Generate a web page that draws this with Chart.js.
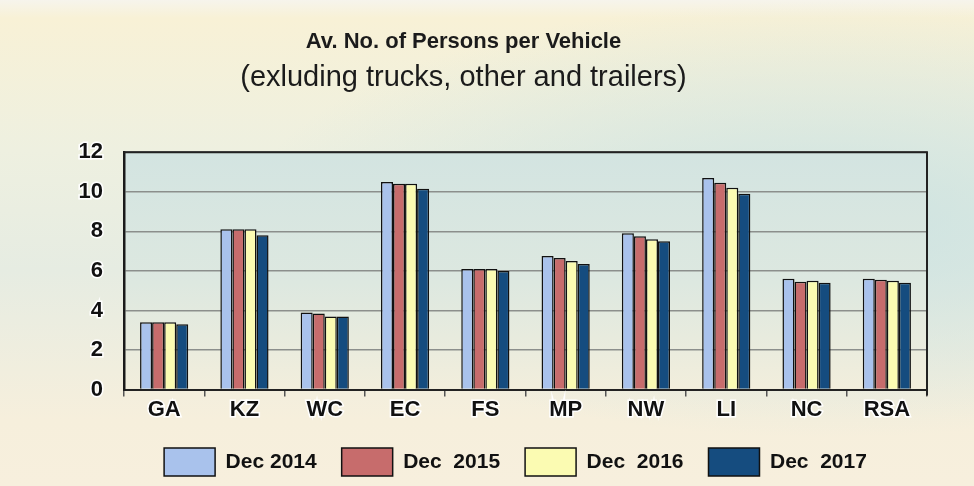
<!DOCTYPE html>
<html>
<head>
<meta charset="utf-8">
<title>Av. No. of Persons per Vehicle</title>
<script src="https://cdn.jsdelivr.net/npm/chart.js@4.4.1/dist/chart.umd.min.js"></script>
<style>
  html, body { margin: 0; padding: 0; }
  body {
    width: 974px; height: 486px; overflow: hidden;
    background:
      radial-gradient(ellipse 60% 45% at 85% 45%, rgba(200,225,225,0.85), rgba(200,225,225,0) 100%),
      linear-gradient(to bottom, #f6f4ec 0px, #f8f1d6 18px, #eef0e0 150px, #e6ece2 270px, #f6efdc 420px, #f7efdd 486px);
  }
  #wrap { position: relative; width: 974px; height: 486px; }
</style>
</head>
<body>
<div id="wrap"><canvas id="grafico"></canvas></div>
<script>
// dados do gráfico
const regioes = ['GA', 'KZ', 'WC', 'EC', 'FS', 'MP', 'NW', 'LI', 'NC', 'RSA'];
const dez2014 = [3.4, 8.1, 3.9, 10.5, 6.1, 6.75, 7.9, 10.7, 5.6, 5.6];
const dez2015 = [3.4, 8.1, 3.85, 10.4, 6.1, 6.65, 7.75, 10.45, 5.45, 5.55];
const dez2016 = [3.4, 8.1, 3.7, 10.4, 6.1, 6.5, 7.6, 10.2, 5.5, 5.5];
const dez2017 = [3.3, 7.8, 3.7, 10.15, 6.0, 6.35, 7.5, 9.9, 5.4, 5.4];
const rotulosSerie = ['Dec 2014', 'Dec  2015', 'Dec  2016', 'Dec  2017'];
const ticksY = [0, 2, 4, 6, 8, 10, 12];

const cores = ['#a9c2ec', '#c76c6c', '#fbfbb2', '#154c7f'];

// fundo da área do gráfico + bordas de cima e da direita
const fundoPlot = {
    id: 'fundoPlot',
    afterLayout(chart) {
        // legenda um pouco mais para a esquerda, como no original
        if (chart.legend) {
            chart.legend.left -= 10;
            chart.legend.right -= 10;
        }
    },
    beforeDraw(chart) {
        const { ctx, chartArea: a } = chart;
        const g = ctx.createLinearGradient(0, a.top, 0, a.bottom);
        g.addColorStop(0, '#d3e4e1');
        g.addColorStop(0.55, '#dde8e0');
        g.addColorStop(1, '#f2eedc');
        ctx.save();
        ctx.fillStyle = g;
        ctx.fillRect(a.left, a.top, a.right - a.left, a.bottom - a.top);
        ctx.restore();
    },
    afterDraw(chart) {
        const { ctx, chartArea: a } = chart;
        ctx.save();
        ctx.strokeStyle = '#222';
        ctx.lineWidth = 2;
        ctx.beginPath();
        ctx.moveTo(a.left, a.top);
        ctx.lineTo(a.right, a.top);
        ctx.lineTo(a.right, a.bottom + 6);
        ctx.stroke();
        ctx.restore();
    }
};

const series = [dez2014, dez2015, dez2016, dez2017];

const ctx = document.getElementById('grafico').getContext('2d');
const meuGrafico = new Chart(ctx, {
    type: 'bar',
    data: {
        labels: regioes,
        datasets: series.map((s, i) => ({
            label: rotulosSerie[i],
            data: s,
            backgroundColor: cores[i],
            borderColor: '#111',
            borderWidth: 1.5,
            categoryPercentage: 0.6,
            barPercentage: 1.0
        }))
    },
    options: {
        responsive: true,
        maintainAspectRatio: false,
        animation: false,
        layout: {
            padding: { left: 0, right: 47, top: 0, bottom: 0 }
        },
        plugins: {
            title: {
                display: true,
                text: 'Av. No. of Persons per Vehicle',
                color: '#1b1b1b',
                font: { family: 'Liberation Sans, Arial, sans-serif', size: 22, weight: 'bold' },
                padding: { top: 29, bottom: 5 }
            },
            subtitle: {
                display: true,
                text: '(exluding trucks, other and trailers)',
                color: '#1b1b1b',
                font: { family: 'Liberation Sans, Arial, sans-serif', size: 29, weight: 'normal' },
                padding: { top: 0, bottom: 57 }
            },
            legend: {
                position: 'bottom',
                fullSize: false,
                labels: {
                    boxWidth: 51,
                    boxHeight: 28,
                    padding: 25,
                    color: '#111',
                    font: { family: 'Liberation Sans, Arial, sans-serif', size: 21, weight: 'bold' }
                }
            },
            tooltip: { enabled: false }
        },
        scales: {
            x: {
                offset: true,
                grid: {
                    offset: true,
                    drawOnChartArea: false,
                    drawTicks: true,
                    tickLength: 7,
                    color: '#555',
                    lineWidth: 1.5
                },
                border: { display: true, color: '#222', width: 2 },
                ticks: {
                    color: '#111',
                    padding: 0,
                    font: { family: 'Liberation Sans, Arial, sans-serif', size: 22, weight: 'bold' },
                    textStrokeColor: '#ffffff',
                    textStrokeWidth: 3
                }
            },
            y: {
                min: 0,
                max: 12,
                afterBuildTicks: function(scale) {
                    scale.ticks = ticksY.map(v => ({ value: v }));
                },
                afterFit: function(scale) {
                    scale.width = 124;
                },
                grid: {
                    drawTicks: false,
                    color: '#8c8f8c',
                    lineWidth: 1.5
                },
                border: { display: true, color: '#1a1a1a', width: 2.5 },
                ticks: {
                    color: '#111',
                    padding: 21,
                    font: { family: 'Liberation Sans, Arial, sans-serif', size: 22, weight: 'bold' },
                    textStrokeColor: '#ffffff',
                    textStrokeWidth: 3
                }
            }
        }
    },
    plugins: [fundoPlot]
});
</script>
</body>
</html>
